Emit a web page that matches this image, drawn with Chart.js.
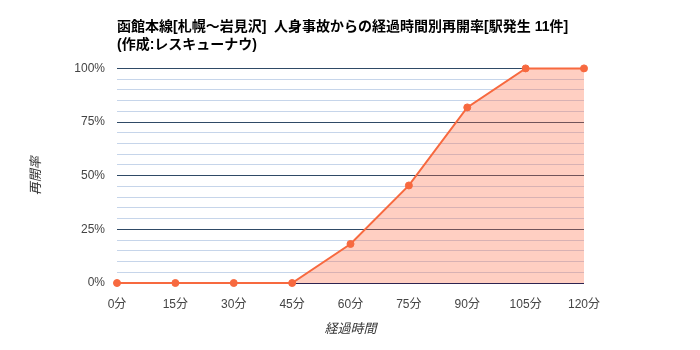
<!DOCTYPE html>
<html>
<head>
<meta charset="utf-8">
<script src="https://cdn.jsdelivr.net/npm/chart.js@4/dist/chart.umd.min.js"></script>
<style>
  html, body { margin: 0; padding: 0; background: #fff; }
  #wrap { width: 700px; height: 350px; }
</style>
</head>
<body>
<div id="wrap"><canvas id="reopenChart" width="700" height="350"></canvas></div>
<script>
var elapsedLabels = ["0分", "15分", "30分", "45分", "60分", "75分", "90分", "105分", "120分"];
// 11件中の再開件数の割合
var reopenRate = [0, 0, 0, 0, 2 / 11, 5 / 11, 9 / 11, 1, 1];
var titleLines = [
  "函館本線[札幌～岩見沢]  人身事故からの経過時間別再開率[駅発生 11件]",
  "(作成:レスキューナウ)"
];

var fontFamily = '"Liberation Sans", Arial, "Noto Sans CJK JP", sans-serif';
var lineColor = "#f7693f";

function isMajor(v) {
  return Math.round(v * 100) % 25 === 0;
}

var ctx = document.getElementById("reopenChart").getContext("2d");
var reopenChart = new Chart(ctx, {
  type: "line",
  data: {
    labels: elapsedLabels,
    datasets: [
      {
        data: reopenRate,
        borderColor: lineColor,
        borderWidth: 2,
        backgroundColor: "rgba(255, 105, 65, 0.32)",
        fill: "origin",
        clip: false,
        pointRadius: 3.5,
        pointBorderWidth: 1,
        pointBackgroundColor: lineColor,
        pointBorderColor: lineColor,
        tension: 0,
      },
    ],
  },
  options: {
    responsive: false,
    animation: false,
    layout: {
      padding: { left: 29, right: 116, top: 8, bottom: 13 },
    },
    plugins: {
      legend: { display: false },
      tooltip: { enabled: false },
      title: {
        display: true,
        text: titleLines,
        align: "start",
        fullSize: false,
        color: "#000",
        font: { family: fontFamily, size: 14, weight: "bold", lineHeight: 1.3 },
        padding: { top: 10, bottom: 14 },
      },
    },
    scales: {
      x: {
        type: "category",
        offset: false,
        grid: { display: false },
        border: { display: false },
        ticks: {
          color: "#444",
          font: { family: fontFamily, size: 12 },
          padding: 6,
          maxRotation: 0,
          autoSkip: false,
        },
        title: {
          display: true,
          text: "経過時間",
          color: "#333",
          font: { family: fontFamily, size: 13, style: "italic" },
          padding: { top: 8, bottom: 0 },
        },
        afterFit: function (scale) {
          scale.height = 54;
        },
      },
      y: {
        min: 0,
        max: 1,
        border: { display: false },
        grid: {
          drawTicks: false,
          lineWidth: 1,
          color: function (c) {
            var v = c.tick.value;
            if (v === 0) return "#2d2350";
            return isMajor(v) ? "#2f4a66" : "#c6d5ea";
          },
        },
        ticks: {
          stepSize: 0.05,
          autoSkip: false,
          color: "#444",
          padding: 12,
          font: { family: fontFamily, size: 12 },
          callback: function (v) {
            return isMajor(v) ? Math.round(v * 100) + "%" : "";
          },
        },
        title: {
          display: true,
          text: "再開率",
          color: "#333",
          font: { family: fontFamily, size: 13, style: "italic" },
          padding: { top: 0, bottom: 0 },
        },
        afterFit: function (scale) {
          scale.width = 88;
        },
      },
    },
  },
});
</script>
</body>
</html>
